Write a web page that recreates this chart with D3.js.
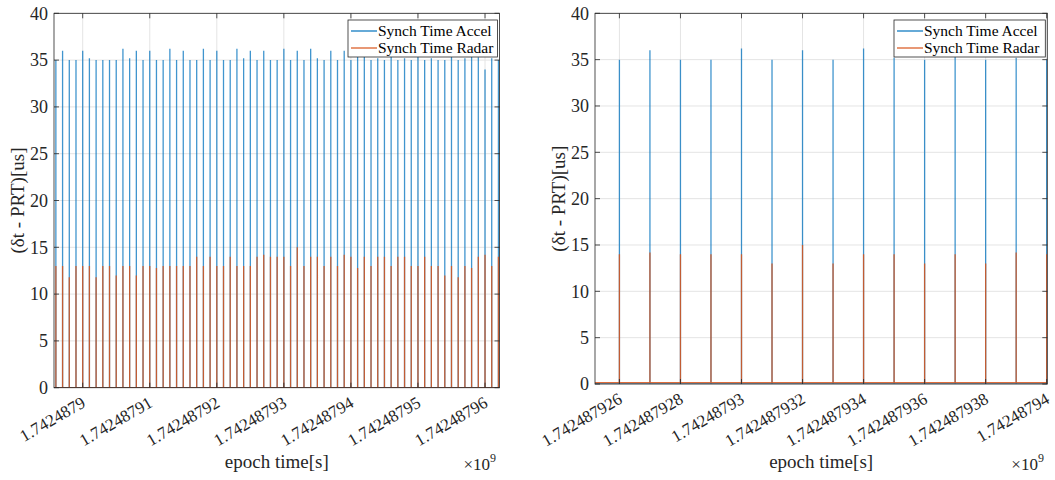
<!DOCTYPE html>
<html>
<head>
<meta charset="utf-8">
<script src="https://d3js.org/d3.v7.min.js"></script>
<style>
  body { margin: 0; background: #fff; }
  text { font-family: "Liberation Serif", "Times New Roman", Times, "DejaVu Serif", serif; }
</style>
</head>
<body>
<svg id="chart" width="1055" height="480"></svg>
<script>
// spike times (epoch s) and values (us)
var leftTimes = [
  1742487896, 1742487897, 1742487898, 1742487899, 1742487900, 1742487901, 1742487902, 1742487903, 1742487904, 1742487905,
  1742487906, 1742487907, 1742487908, 1742487909, 1742487910, 1742487911, 1742487912, 1742487913, 1742487914, 1742487915,
  1742487916, 1742487917, 1742487918, 1742487919, 1742487920, 1742487921, 1742487922, 1742487923, 1742487924, 1742487925,
  1742487926, 1742487927, 1742487928, 1742487929, 1742487930, 1742487931, 1742487932, 1742487933, 1742487934, 1742487935,
  1742487936, 1742487937, 1742487938, 1742487939, 1742487940, 1742487941, 1742487942, 1742487943, 1742487944, 1742487945,
  1742487946, 1742487947, 1742487948, 1742487949, 1742487950, 1742487951, 1742487952, 1742487953, 1742487954, 1742487955,
  1742487956, 1742487957, 1742487958, 1742487959, 1742487960, 1742487961, 1742487962
];
var leftAccel = [
  35, 36, 35, 35, 36, 35.2, 35, 35, 35, 35,
  36.2, 35.2, 36, 35, 36, 35, 35, 36.2, 35, 36,
  35, 35, 36.2, 35, 36, 35, 35, 36.2, 35.2, 36,
  35, 36, 35, 35, 36.2, 35, 36, 35, 36.2, 35.2,
  35, 36, 35, 36, 35, 36, 36, 35, 35.2, 35,
  36, 35, 35.2, 35, 36, 35, 35.2, 35, 35, 36,
  35, 35.2, 36, 35.3, 34, 35.2, 35
];
var leftRadar = [
  13, 13, 11.8, 13, 13, 13, 11.8, 13, 13, 12,
  13, 13, 12, 13, 13, 12.8, 13, 13, 13, 13,
  13, 14, 13, 14, 13, 13, 14, 13, 13, 13,
  14, 14.2, 14, 14, 14, 13, 15, 13, 14, 14,
  13, 14, 13, 14.2, 14, 12.8, 14, 13, 14, 14,
  13, 14, 14, 13, 13, 14, 13, 13, 12, 13,
  11.8, 13, 12.8, 14, 14.2, 13, 14
];
var rightTimes = [
  1742487926, 1742487927, 1742487928, 1742487929, 1742487930, 1742487931, 1742487932, 1742487933,
  1742487934, 1742487935, 1742487936, 1742487937, 1742487938, 1742487939, 1742487940
];
var rightAccel = [35, 36, 35, 35, 36.2, 35, 36, 35, 36.2, 35.2, 35, 35.3, 35, 35.2, 35];
var rightRadar = [14, 14.2, 14, 14, 14, 13, 15, 13, 14, 14, 13, 14, 13, 14.2, 14];

var leftTicks = [1742487900, 1742487910, 1742487920, 1742487930, 1742487940, 1742487950, 1742487960];
var leftTickLabels = ['1.7424879', '1.74248791', '1.74248792', '1.74248793', '1.74248794', '1.74248795', '1.74248796'];
var rightTicks = [1742487926, 1742487928, 1742487930, 1742487932, 1742487934, 1742487936, 1742487938, 1742487940];
var rightTickLabels = ['1.742487926', '1.742487928', '1.74248793', '1.742487932', '1.742487934', '1.742487936', '1.742487938', '1.74248794'];
var yTicks = [0, 5, 10, 15, 20, 25, 30, 35, 40];
var seriesNames = ['Synch Time Accel', 'Synch Time Radar'];

var blue = '#0072BD', orange = '#D95319', axisColor = '#262626', gridColor = '#e4e4e4';
var serif = '"Liberation Serif", "Times New Roman", Times, "DejaVu Serif", serif';

var svg = d3.select('#chart');

function drawPanel(cfg, idx) {
  var x = d3.scaleLinear().domain(cfg.domain).range([cfg.left, cfg.right]);
  var y = d3.scaleLinear().domain([0, 40]).range([cfg.bottom, cfg.top]);
  var g = svg.append('g').attr('class', 'panel').attr('font-family', serif);

  g.append('clipPath').attr('id', 'clip' + idx)
    .append('rect')
      .attr('x', cfg.left).attr('y', cfg.top)
      .attr('width', cfg.right - cfg.left).attr('height', cfg.bottom - cfg.top);

  // grid
  g.selectAll('.gy').data(yTicks).enter().append('line')
    .attr('x1', cfg.left).attr('x2', cfg.right)
    .attr('y1', function(d){ return y(d) }).attr('y2', function(d){ return y(d) })
    .attr('stroke', gridColor).attr('stroke-width', 1);
  g.selectAll('.gx').data(cfg.ticks).enter().append('line')
    .attr('x1', function(d){ return x(d) }).attr('x2', function(d){ return x(d) })
    .attr('y1', cfg.top).attr('y2', cfg.bottom)
    .attr('stroke', gridColor).attr('stroke-width', 1);

  // spikes: each sample goes base -> value -> base
  function spikePoints(times, vals, base) {
    var pts = [[cfg.domain[0], base]];
    times.forEach(function(t, i) {
      pts.push([t, base], [t, vals[i]], [t, base]);
    });
    pts.push([cfg.domain[1], base]);
    return pts;
  }
  var line = d3.line().x(function(d){ return x(d[0]) }).y(function(d){ return y(d[1]) });

  var plot = g.append('g').attr('clip-path', 'url(#clip' + idx + ')');
  plot.append('path')
    .attr('d', line(spikePoints(cfg.times, cfg.accel, 0)))
    .attr('fill', 'none').attr('stroke', blue).attr('stroke-width', 1.3).attr('stroke-opacity', 0.75);
  plot.append('path')
    .attr('d', line(spikePoints(cfg.times, cfg.radar, cfg.radarBase)))
    .attr('fill', 'none').attr('stroke', orange).attr('stroke-width', 1.3).attr('stroke-opacity', 0.85);

  // box
  g.append('rect')
    .attr('x', cfg.left).attr('y', cfg.top)
    .attr('width', cfg.right - cfg.left).attr('height', cfg.bottom - cfg.top)
    .attr('fill', 'none').attr('stroke', axisColor).attr('stroke-width', 0.8);

  // tick marks, inside on all four sides
  var tl = 5;
  cfg.ticks.forEach(function(t) {
    g.append('line').attr('x1', x(t)).attr('x2', x(t)).attr('y1', cfg.bottom).attr('y2', cfg.bottom - tl)
      .attr('stroke', axisColor).attr('stroke-width', 0.8);
    g.append('line').attr('x1', x(t)).attr('x2', x(t)).attr('y1', cfg.top).attr('y2', cfg.top + tl)
      .attr('stroke', axisColor).attr('stroke-width', 0.8);
  });
  yTicks.forEach(function(v) {
    g.append('line').attr('x1', cfg.left).attr('x2', cfg.left + tl).attr('y1', y(v)).attr('y2', y(v))
      .attr('stroke', axisColor).attr('stroke-width', 0.8);
    g.append('line').attr('x1', cfg.right).attr('x2', cfg.right - tl).attr('y1', y(v)).attr('y2', y(v))
      .attr('stroke', axisColor).attr('stroke-width', 0.8);
  });

  // y tick labels
  g.selectAll('.yl').data(yTicks).enter().append('text')
    .attr('x', cfg.left - 6).attr('y', function(d){ return y(d) })
    .attr('dy', '0.35em')
    .attr('text-anchor', 'end')
    .style('font-size', '18px').style('fill', axisColor)
    .text(function(d){ return d });

  // x tick labels, rotated
  g.selectAll('.xl').data(cfg.ticks).enter().append('text')
    .attr('transform', function(d){ return 'translate(' + (x(d) - 2) + ',' + (cfg.bottom + 8) + ') rotate(-30)' })
    .attr('text-anchor', 'end')
    .attr('dy', '0.7em')
    .style('font-size', '17px').style('fill', axisColor)
    .text(function(d, i){ return cfg.tickLabels[i] });

  // axis labels
  g.append('text')
    .attr('x', (cfg.left + cfg.right) / 2).attr('y', 468)
    .attr('text-anchor', 'middle')
    .style('font-size', '19px').style('fill', axisColor)
    .text('epoch time[s]');
  var ex = g.append('text')
    .attr('x', cfg.right - 36).attr('y', 470)
    .style('font-size', '17px').style('fill', axisColor);
  ex.append('tspan').text('\u00d710');
  ex.append('tspan').attr('dy', -8).style('font-size', '12px').text('9');

  g.append('text')
    .attr('transform', 'translate(' + (cfg.left - 30) + ',' + ((cfg.top + cfg.bottom) / 2) + ') rotate(-90)')
    .attr('text-anchor', 'middle')
    .style('font-size', '19px').style('fill', axisColor)
    .text('(\u03b4t - PRT)[us]');

  // legend
  var lg = g.append('g').attr('transform', 'translate(' + cfg.legendX + ',20)');
  lg.append('rect').attr('width', cfg.right - 2 - cfg.legendX).attr('height', 37)
    .attr('fill', '#fff').attr('stroke', axisColor).attr('stroke-width', 0.8);
  [blue, orange].forEach(function(c, i) {
    lg.append('line').attr('x1', 3).attr('x2', 29)
      .attr('y1', 11 + i * 17).attr('y2', 11 + i * 17)
      .attr('stroke', c).attr('stroke-width', 1.2);
    lg.append('text').attr('x', 30).attr('y', 16 + i * 17)
      .style('font-size', '15.5px').style('fill', '#000')
      .text(seriesNames[i]);
  });
}

drawPanel({
  left: 54, right: 499.5, top: 13.3, bottom: 387.7,
  domain: [1742487895.72, 1742487962.16],
  times: leftTimes, accel: leftAccel, radar: leftRadar, radarBase: 0,
  ticks: leftTicks, tickLabels: leftTickLabels, legendX: 348
}, 0);

drawPanel({
  left: 595, right: 1047.3, top: 13.3, bottom: 384,
  domain: [1742487925.2, 1742487940.02],
  times: rightTimes, accel: rightAccel, radar: rightRadar, radarBase: 0.15,
  ticks: rightTicks, tickLabels: rightTickLabels, legendX: 894
}, 1);
</script>
</body>
</html>
